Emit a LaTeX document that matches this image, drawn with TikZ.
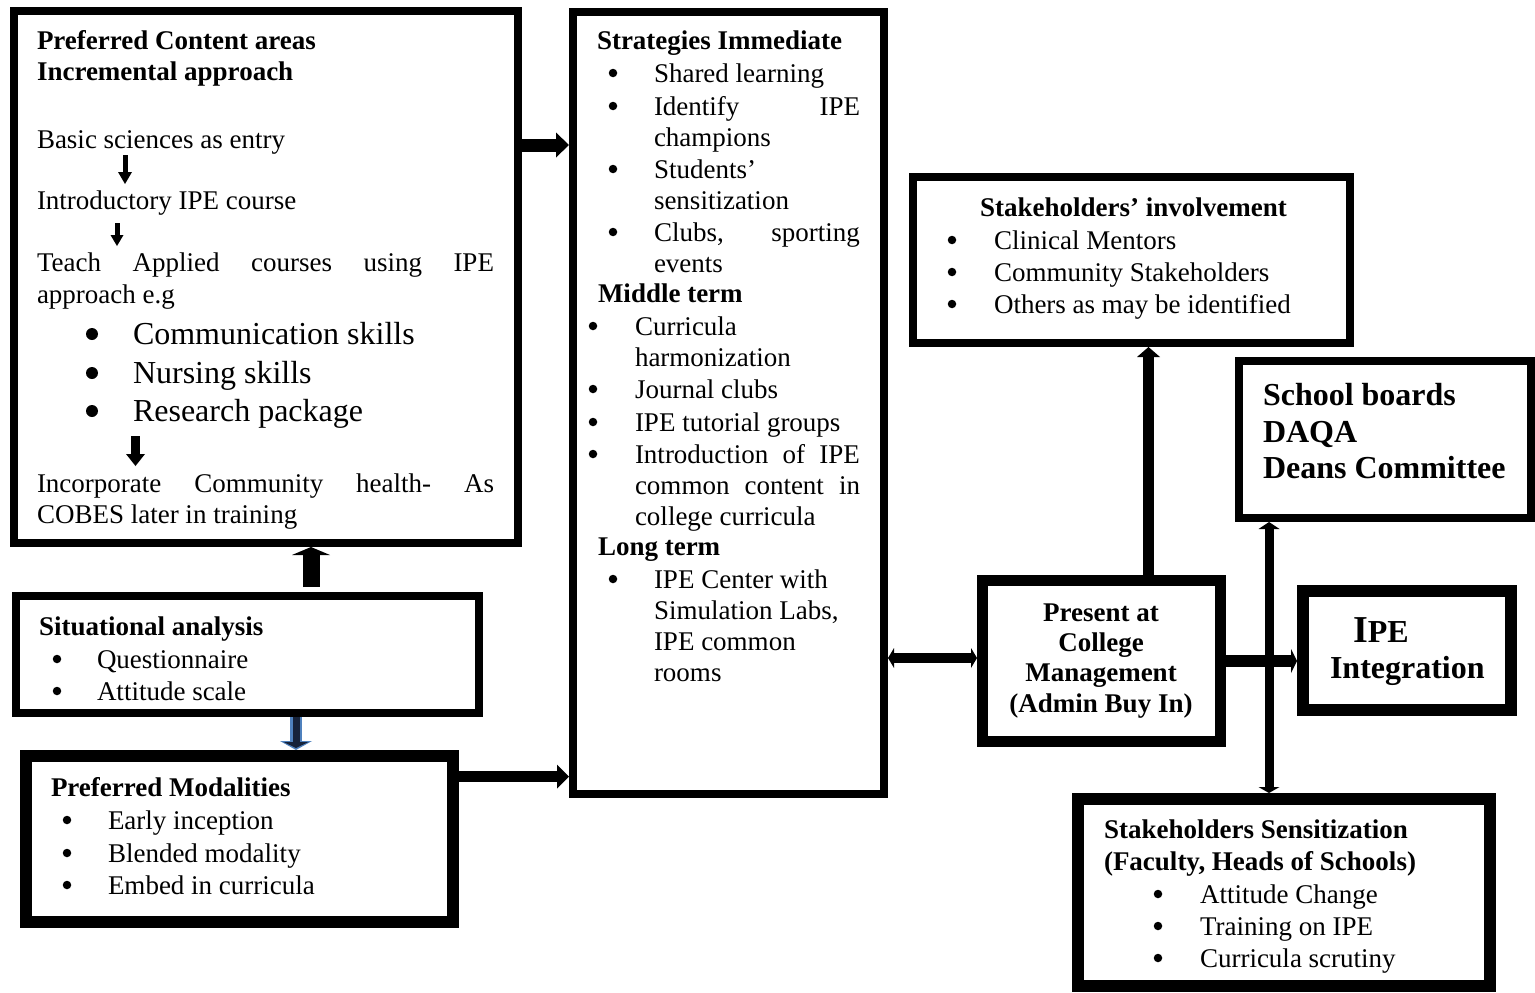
\documentclass[tikz,border=0pt]{standalone}
\usepackage{fontspec}
\setmainfont{Liberation Serif}
\usetikzlibrary{arrows.meta}
\definecolor{arrblue}{HTML}{4F81BD}
\definecolor{arrnavy}{HTML}{17233A}
\newcounter{tn}
\tikzset{
  bx/.style={draw, line width=#1, outer sep={#1/2}, inner sep=0pt},
  txt/.style={inner sep=0pt, outer sep=0pt, font=\fontsize{27}{31}\selectfont},
  bigtxt/.style={inner sep=0pt, outer sep=0pt, font=\fontsize{32}{39}\selectfont},
  hugetxt/.style={inner sep=0pt, outer sep=0pt, font=\fontsize{32}{37}\selectfont\bfseries},
  dot/.style={circle, fill=black, draw=none, inner sep=0pt, minimum size=#1},
}
% plain text line, left aligned on baseline
\newcommand\tx[3]{\stepcounter{tn}\node[txt,anchor=base west] (t\arabic{tn}) at (#1,#2) {#3};}
% centred text line on baseline
\newcommand\tcn[3]{\stepcounter{tn}\node[txt,anchor=base] (t\arabic{tn}) at (#1,#2) {#3};}
% bullet item: bullet x, text x, baseline, text
\newcommand\bi[4]{\stepcounter{tn}\node[dot=8.5pt] (b\arabic{tn}) at (#1,#3-9) {};
  \node[txt,anchor=base west] (t\arabic{tn}) at (#2,#3) {#4};}
\newcommand\bib[4]{\stepcounter{tn}\node[dot=12pt] (b\arabic{tn}) at (#1,#3-10) {};
  \node[bigtxt,anchor=base west] (t\arabic{tn}) at (#2,#3) {#4};}
\begin{document}
\begin{tikzpicture}[x=1pt,y=-1pt]
\useasboundingbox (0,0) rectangle (1535,993);

% ---------- boxes ----------
\node[bx=8pt, minimum width=504pt, minimum height=532pt] (content) at (266,277) {};
\node[bx=8pt, minimum width=311pt, minimum height=782pt] (strat) at (728.5,403) {};
\node[bx=8pt, minimum width=463pt, minimum height=117pt] (situ) at (247.5,654.5) {};
\node[bx=12pt, minimum width=427pt, minimum height=166pt] (modal) at (239.5,839) {};
\node[bx=8pt, minimum width=437pt, minimum height=166pt] (stakeinv) at (1131.5,260) {};
\node[bx=8pt, minimum width=292pt, minimum height=157pt] (school) at (1385,439.5) {};
\node[bx=11pt, minimum width=238pt, minimum height=161pt] (present) at (1101.5,661) {};
\node[bx=12pt, minimum width=208pt, minimum height=119pt] (ipe) at (1407,650.5) {};
\node[bx=12pt, minimum width=412pt, minimum height=187pt] (sens) at (1284,892.5) {};

% ---------- helper coordinates ----------
\coordinate (yA) at (0,145);
\coordinate (xB) at (311,0);
\coordinate (xC) at (296,0);
\coordinate (yD) at (0,776.5);
\coordinate (yE) at (0,658);
\coordinate (xF) at (1148.5,0);
\coordinate (yG) at (0,661);
\coordinate (xH) at (1269,0);

% ---------- connectors ----------
\draw[line width=13pt, -{Triangle[width=25pt,length=13pt,line width=0pt]}]
  (content.east |- yA) -- (strat.west |- yA);
\draw[line width=17pt, shorten <=5pt, -{Triangle[width=38pt,length=8pt,line width=0pt]}]
  (situ.north -| xB) -- (content.south -| xB);
\draw[arrblue, line width=12pt, -{Triangle[width=32pt,length=9pt,line width=0pt]}]
  (situ.south -| xC) -- (modal.north -| xC);
\draw[arrnavy, line width=7pt, shorten >=2pt, -{Triangle[width=25pt,length=6pt,line width=0pt]}]
  (situ.south -| xC) -- (modal.north -| xC);
\draw[line width=11pt, -{Triangle[width=24pt,length=12pt,line width=0pt]}]
  (modal.east |- yD) -- (strat.west |- yD);
\draw[line width=10pt, {Triangle[width=20pt,length=6pt,line width=0pt]}-{Triangle[width=20pt,length=6pt,line width=0pt]}]
  (strat.east |- yE) -- (present.west |- yE);
\draw[line width=11pt, -{Triangle[width=23pt,length=10pt,line width=0pt]}]
  (present.north -| xF) -- (stakeinv.south -| xF);
\draw[line width=12pt, -{Triangle[width=24pt,length=6pt,line width=0pt]}]
  (present.east |- yG) -- (ipe.west |- yG);
\draw[line width=9pt, {Triangle[width=21pt,length=7pt,line width=0pt]}-{Triangle[width=21pt,length=6pt,line width=0pt]}]
  (school.south -| xH) -- (sens.north -| xH);

% small arrows inside the content box
\coordinate (s1a) at (125,155); \coordinate (s1b) at (125,184);
\coordinate (s2a) at (117,223); \coordinate (s2b) at (117,246);
\coordinate (s3a) at (135.5,436); \coordinate (s3b) at (135.5,466);
\draw[line width=5pt, -{Triangle[width=14pt,length=12pt,line width=0pt]}] (s1a) -- (s1b);
\draw[line width=5pt, -{Triangle[width=13pt,length=11pt,line width=0pt]}] (s2a) -- (s2b);
\draw[line width=9pt, -{Triangle[width=19pt,length=12pt,line width=0pt]}] (s3a) -- (s3b);

% ---------- content box text ----------
\tx{37}{49}{\bfseries Preferred Content areas}
\tx{37}{80}{\bfseries Incremental approach}
\tx{37}{148}{Basic sciences as entry}
\tx{37}{209}{Introductory IPE course}
\tx{37}{271}{\makebox[457pt][s]{Teach Applied courses using IPE}}
\tx{37}{303}{approach e.g}
\bib{92}{133}{344}{Communication skills}
\bib{92}{133}{383}{Nursing skills}
\bib{92}{133}{421}{Research package}
\tx{37}{492}{\makebox[457pt][s]{Incorporate Community health- As}}
\tx{37}{523}{COBES later in training}

% ---------- strategies box text ----------
\tx{597}{49}{\bfseries Strategies Immediate}
\bi{613}{654}{82}{Shared learning}
\bi{613}{654}{115}{\makebox[206pt][s]{Identify IPE}}
\tx{654}{146}{champions}
\bi{613}{654}{178}{Students’}
\tx{654}{209}{sensitization}
\bi{613}{654}{241}{\makebox[206pt][s]{Clubs, sporting}}
\tx{654}{272}{events}
\tx{598}{302}{\bfseries Middle term}
\bi{593}{635}{335}{Curricula}
\tx{635}{366}{harmonization}
\bi{593}{635}{398}{Journal clubs}
\bi{593}{635}{431}{IPE tutorial groups}
\bi{593}{635}{463}{\makebox[225pt][s]{Introduction of IPE}}
\tx{635}{494}{\makebox[225pt][s]{common content in}}
\tx{635}{525}{college curricula}
\tx{598}{555}{\bfseries Long term}
\bi{613}{654}{588}{IPE Center with}
\tx{654}{619}{Simulation Labs,}
\tx{654}{650}{IPE common}
\tx{654}{681}{rooms}

% ---------- situational analysis ----------
\tx{39}{635}{\bfseries Situational analysis}
\bi{57}{97}{668}{Questionnaire}
\bi{57}{97}{700}{Attitude scale}

% ---------- preferred modalities ----------
\tx{51}{796}{\bfseries Preferred Modalities}
\bi{67}{108}{829}{Early inception}
\bi{67}{108}{862}{Blended modality}
\bi{67}{108}{894}{Embed in curricula}

% ---------- stakeholders' involvement ----------
\tx{980}{216}{\bfseries Stakeholders’ involvement}
\bi{952}{994}{249}{Clinical Mentors}
\bi{952}{994}{281}{Community Stakeholders}
\bi{952}{994}{313}{Others as may be identified}

% ---------- school boards ----------
\stepcounter{tn}\node[hugetxt,anchor=base west] (t\arabic{tn}) at (1263,405) {School boards};
\stepcounter{tn}\node[hugetxt,anchor=base west] (t\arabic{tn}) at (1263,442) {DAQA};
\stepcounter{tn}\node[hugetxt,anchor=base west] (t\arabic{tn}) at (1263,478) {Deans Committee};

% ---------- present at college management ----------
\tcn{1101}{621}{\bfseries Present at}
\tcn{1101}{651}{\bfseries College}
\tcn{1101}{681}{\bfseries Management}
\tcn{1101}{712}{\bfseries (Admin Buy In)}

% ---------- IPE integration ----------
\tx{1353}{642}{{\fontsize{38}{40}\selectfont\bfseries I}{\fontsize{32}{38}\selectfont\bfseries PE}}
\stepcounter{tn}\node[hugetxt,anchor=base west] (t\arabic{tn}) at (1330,678) {Integration};

% ---------- stakeholders sensitization ----------
\tx{1104}{838}{\bfseries Stakeholders Sensitization}
\tx{1104}{870}{\bfseries (Faculty, Heads of Schools)}
\bi{1158}{1200}{903}{Attitude Change}
\bi{1158}{1200}{935}{Training on IPE}
\bi{1158}{1200}{967}{Curricula scrutiny}
\end{tikzpicture}
\end{document}
